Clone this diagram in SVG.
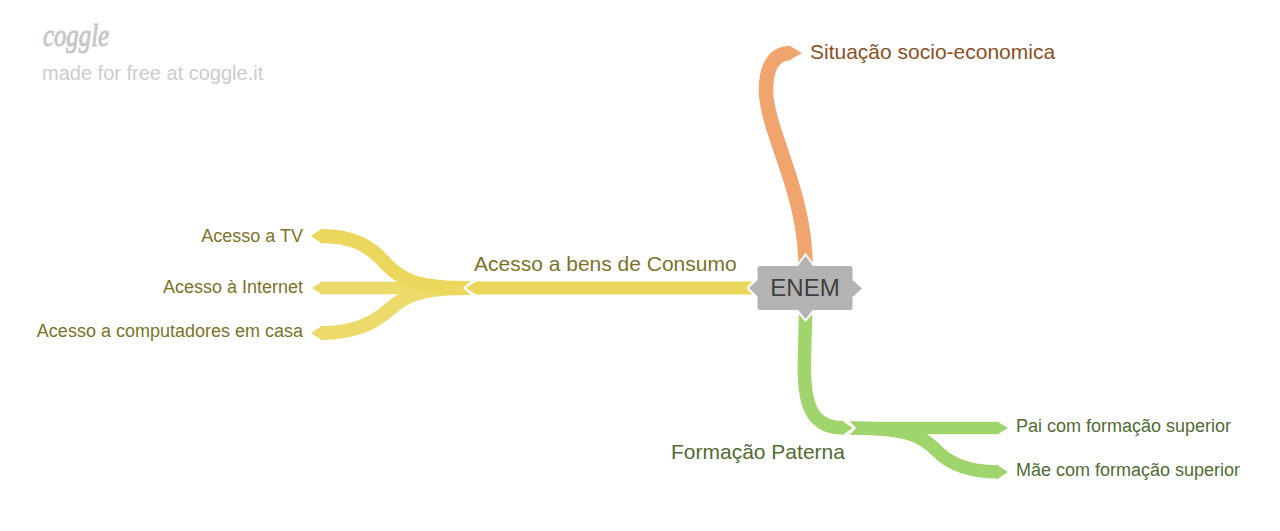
<svg xmlns="http://www.w3.org/2000/svg" width="1280" height="531" viewBox="0 0 1280 531">
<style>
text{font-family:"Liberation Sans",Arial,sans-serif}
.b{fill:none;stroke-linecap:butt}
.y{stroke:#ebd75b}.yt{fill:#ebd75b}
.g{stroke:#a0d56d}.gt{fill:#a0d56d}
.o{stroke:#f0a56f}.ot{fill:#f0a56f}
.yl{fill:#7d7228}.gl{fill:#506b33}
.sm{font-size:18px}.lg{font-size:21px}
.w{fill:none;stroke:#fff;stroke-width:2}
</style>
<rect width="1280" height="531" fill="#fff"/>
<g id="watermark">
<text x="43" y="46" font-size="31" font-style="italic" fill="#c6c6c6" stroke="#c6c6c6" stroke-width="0.9" style="font-family:'Liberation Serif',serif" textLength="66" lengthAdjust="spacingAndGlyphs">coggle</text>
<text x="42" y="80" font-size="20" fill="#cccccc">made for free at coggle.it</text>
</g>
<g id="connectors">
<g opacity="0.9">
<path class="b y" stroke-width="12.5" d="M470 288H320"/>
<path class="yt" d="M321 282L312 288L321 294Z"/>
<path class="b y" stroke-width="14" d="M470 288C425 288 408 293 390 309C372 325 352 333 320 333"/>
<path class="yt" d="M321 326.500L311 333L321 339.500Z"/>
</g>
<path class="b y" stroke-width="14" d="M470 288C425 288 405 284 386 264C370 245 352 236 320 236"/>
<path class="yt" d="M321 229L311 236L321 243Z"/>
<path class="b y" stroke-width="13" d="M475 288H753"/>
<path fill="#fff" d="M470.500 281L463 288L470.500 295H476V281Z"/>
<path class="yt" d="M476 281.500L465.700 288L476 294.500Z"/>
<path class="b o" stroke-width="14.500" d="M805.500 264C805 190 766 130 766 90C766 65 775 53 791 53"/>
<path class="ot" d="M790 46L802 53L790 60Z"/>
<path class="b g" stroke-width="12.500" d="M850 428H999"/>
<path class="gt" d="M998 422L1008 428L998 434Z"/>
<path class="b g" stroke-width="13.500" d="M846 428C905 428 920 434 936 450C950 465 970 472 999 472"/>
<path class="gt" d="M998 465.500L1008 472L998 478.500Z"/>
<path fill="#fff" d="M843 421H849.500L856 428L849.500 435H843Z"/>
<path class="gt" d="M843 421.500L852.500 428L843 434.500Z"/>
<path class="b g" stroke-width="13.500" d="M805.500 314C805 375 795 428 844 428"/>
</g>
<g id="node-enem">
<path d="M760 266H798L805.500 256L813 266H850Q852.500 266 852.500 268.500V280L862 288.500L852.500 297V307.500Q852.500 310 850 310H813L805.500 319L798 310H760Q757.500 310 757.500 307.500V297L749 288L757.500 280V268.500Q757.500 266 760 266Z" fill="#b3b3b3"/>
<path class="w" d="M797 265.500L805.500 254.500L814 265.500M756.500 279L747.500 288L756.500 297M797 310.500L805.500 320.500L814 310.500"/>
<text x="805" y="296" font-size="24" text-anchor="middle" fill="#404040">ENEM</text>
</g>
<g id="node-situacao"><text x="810" y="59" class="lg" fill="#8a4f25">Situação socio-economica</text></g>
<g id="node-bens"><text x="474" y="271" class="lg yl">Acesso a bens de Consumo</text></g>
<g id="node-tv"><text x="303" y="242" class="sm yl" text-anchor="end">Acesso a TV</text></g>
<g id="node-internet"><text x="303" y="293" class="sm yl" text-anchor="end">Acesso à Internet</text></g>
<g id="node-computadores"><text x="303" y="337" class="sm yl" text-anchor="end">Acesso a computadores em casa</text></g>
<g id="node-paterna"><text x="671" y="459" class="lg gl">Formação Paterna</text></g>
<g id="node-pai"><text x="1016" y="432" class="sm gl">Pai com formação superior</text></g>
<g id="node-mae"><text x="1016" y="476" class="sm gl">Mãe com formação superior</text></g>
</svg>
